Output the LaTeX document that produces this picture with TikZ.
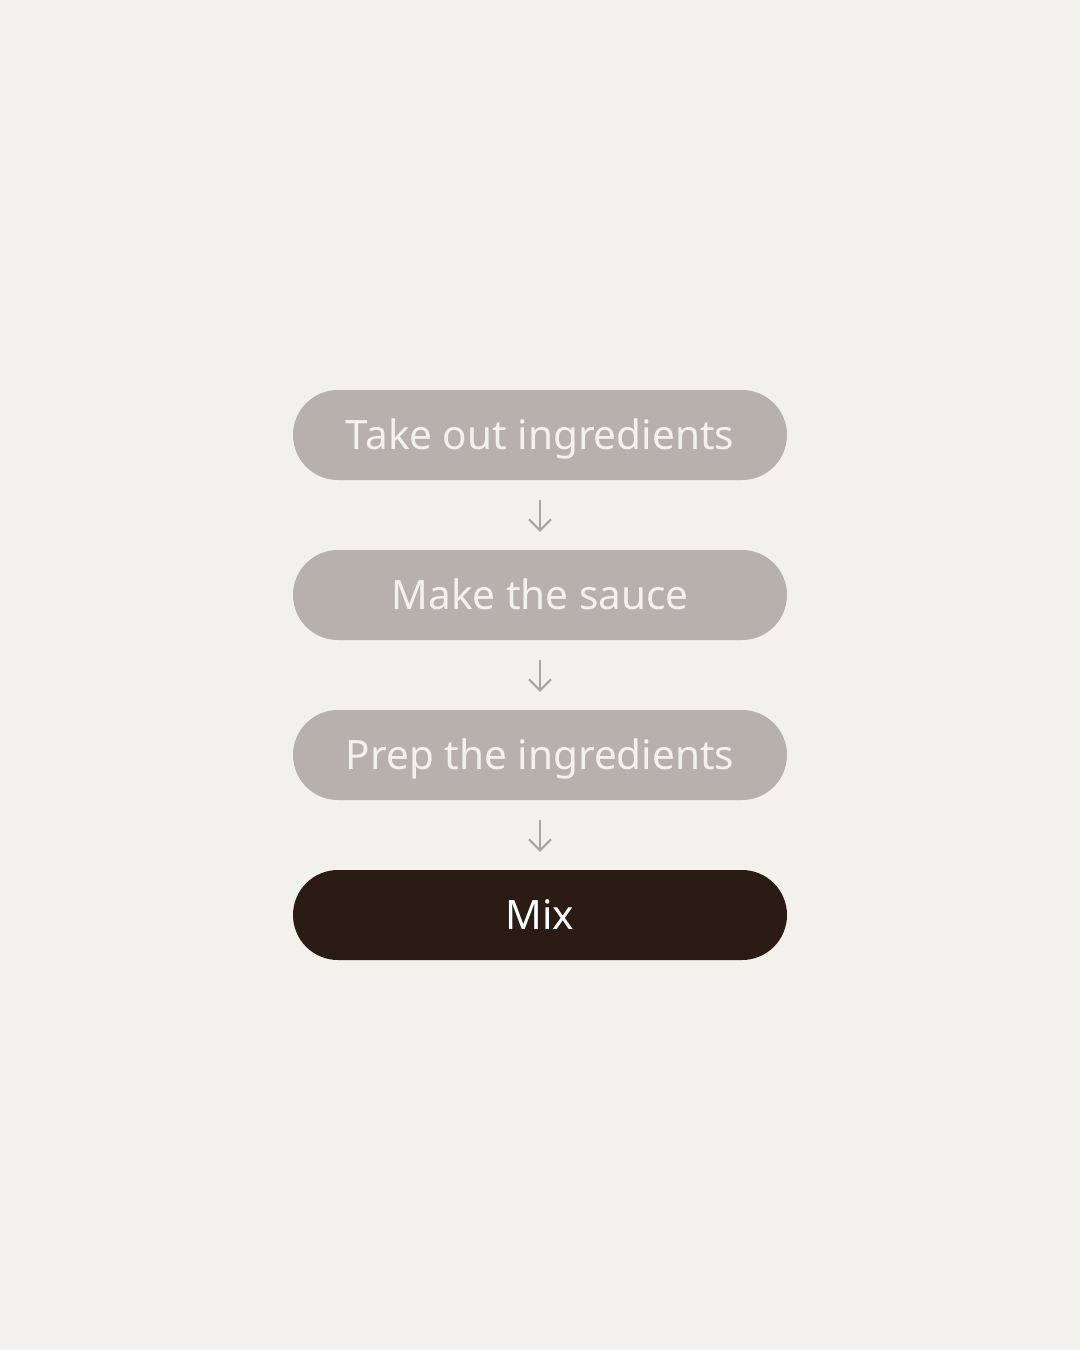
\documentclass[tikz,border=0pt]{standalone}
\usepackage{fontspec}
\setmainfont{Noto Sans}
\usetikzlibrary{arrows.meta}
\definecolor{bg}{HTML}{F2F1EC}
\definecolor{pillgray}{HTML}{B6B1AB}
\definecolor{pilldark}{HTML}{2A1C14}
\definecolor{arrowgray}{HTML}{A9A6A1}
\definecolor{lighttext}{HTML}{F2F1EC}
\tikzset{
  pill/.style={rectangle, rounded corners=45pt, minimum width=494pt, minimum height=90pt,
    inner sep=0pt, text height=29pt, text depth=0pt,
    fill=pillgray, text=lighttext, font=\fontsize{40.5}{45}\selectfont},
  pilldarkstyle/.style={pill, fill=pilldark, text=white},
  flowarrow/.style={draw=arrowgray, line width=2pt, -{Straight Barb[length=11pt, width=22pt, line width=2pt]}}
}
\begin{document}
\begin{tikzpicture}[x=1pt,y=-1pt]
\fill[bg] (0,0) rectangle (1080,1350);
\useasboundingbox (0,0) rectangle (1080,1350);
\node[pill] (a) at (540,435) {Take out ingredients};
\node[pill] (b) at (540,595) {Make the sauce};
\node[pill] (c) at (540,755) {Prep the ingredients};
\node[pilldarkstyle] (d) at (540,915) {Mix};
\draw[flowarrow] ([yshift=-20pt]a.south) -- ([yshift=18pt]b.north);
\draw[flowarrow] ([yshift=-20pt]b.south) -- ([yshift=18pt]c.north);
\draw[flowarrow] ([yshift=-20pt]c.south) -- ([yshift=18pt]d.north);
\end{tikzpicture}
\end{document}
